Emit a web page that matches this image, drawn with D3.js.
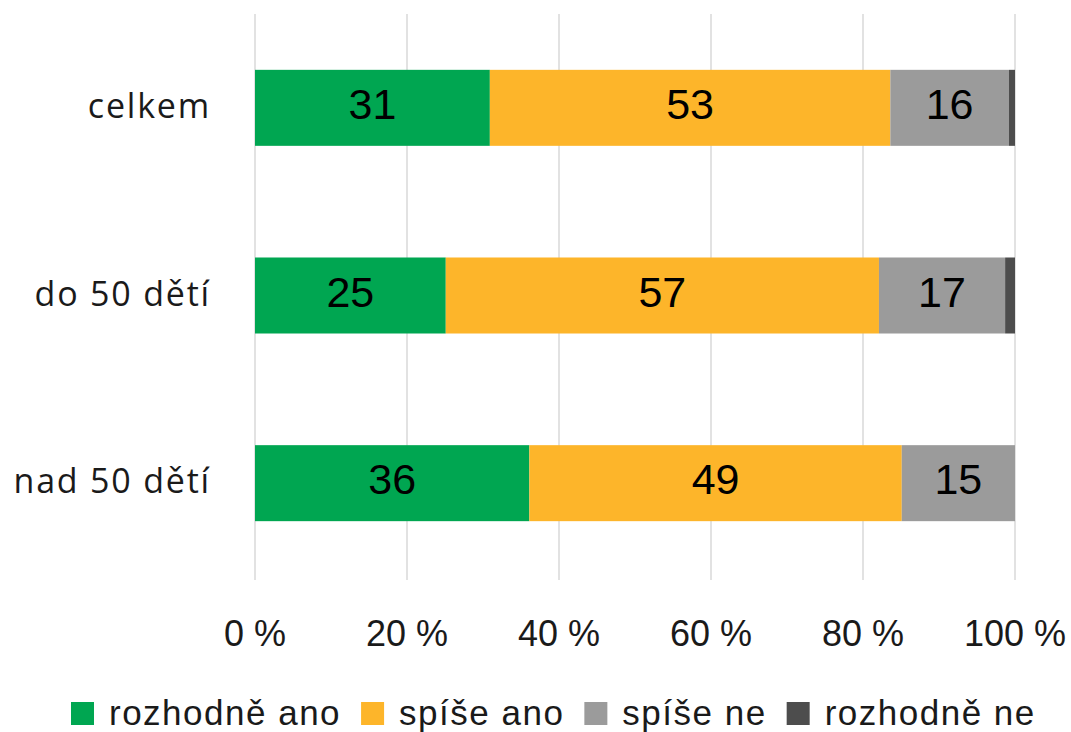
<!DOCTYPE html>
<html>
<head>
<meta charset="utf-8">
<script src="https://cdn.jsdelivr.net/npm/d3@7"></script>
<style>
  html, body { margin: 0; padding: 0; background: #fff; }
  svg { display: block; }
</style>
</head>
<body>
<svg id="chart" width="1071" height="732"></svg>
<script>
// ---- data ----
const categories = ["celkem", "do 50 dětí", "nad 50 dětí"];
const seriesNames = ["rozhodně ano", "spíše ano", "spíše ne", "rozhodně ne"];
const rozhodneAno = [30.9, 25.1, 36.1];
const spiseAno    = [52.7, 57.0, 49.0];
const spiseNe     = [15.6, 16.6, 14.9];
const rozhodneNe  = [0.8, 1.3, 0.0];
const tickValues  = [0, 20, 40, 60, 80, 100];
const tickLabels  = ["0 %", "20 %", "40 %", "60 %", "80 %", "100 %"];
const colors      = ["#00a651", "#fdb52a", "#9b9b9b", "#4d4d4d"];
const showLabel   = [true, true, true, false];

const seriesValues = [rozhodneAno, spiseAno, spiseNe, rozhodneNe];
const rows = categories.map((c, i) => {
  const r = { cat: c };
  seriesNames.forEach((s, j) => r[s] = seriesValues[j][i]);
  return r;
});

const svg = d3.select("#chart");
const x = d3.scaleLinear().domain([0, 100]).range([255, 1015]);
const y = d3.scaleBand().domain(categories).range([14, 577])
  .paddingInner(0.595).paddingOuter(0.2975);

// gridlines
svg.append("g").selectAll("line").data(tickValues).join("line")
  .attr("x1", d => x(d)).attr("x2", d => x(d))
  .attr("y1", 14).attr("y2", 580)
  .attr("stroke", "#d9d9d9").attr("stroke-width", 1.5);

// stacked bars
const stack = d3.stack().keys(seriesNames)(rows);
const layers = svg.append("g").selectAll("g").data(stack).join("g")
  .attr("fill", (d, i) => colors[i]);
layers.selectAll("rect").data(d => d).join("rect")
  .attr("x", d => x(d[0]))
  .attr("width", d => Math.max(0, x(d[1]) - x(d[0])))
  .attr("y", d => y(d.data.cat))
  .attr("height", y.bandwidth());

// data labels
svg.append("g").selectAll("g").data(stack).join("g")
  .each(function(layer, i) {
    if (!showLabel[i]) return;
    d3.select(this).selectAll("text").data(layer).join("text")
      .attr("x", d => (x(d[0]) + x(d[1])) / 2)
      .attr("y", d => y(d.data.cat) + y.bandwidth() / 2 + 11)
      .attr("text-anchor", "middle")
      .attr("font-family", "'Liberation Sans', Arial, sans-serif")
      .attr("font-size", 43)
      .attr("fill", "#000")
      .text(d => Math.round(d[1] - d[0]));
  });

// category labels
svg.append("g").selectAll("text").data(categories).join("text")
  .attr("x", 211)
  .attr("y", d => y(d) + y.bandwidth() / 2 + 10)
  .attr("text-anchor", "end")
  .attr("font-family", "'Open Sans', 'Noto Sans', sans-serif")
  .attr("font-size", 34)
  .attr("letter-spacing", 1.8)
  .attr("fill", "#1a1a1a")
  .text(d => d);

// x tick labels
svg.append("g").selectAll("text").data(tickValues).join("text")
  .attr("x", d => x(d))
  .attr("y", 646)
  .attr("text-anchor", "middle")
  .attr("font-family", "'Liberation Sans', Arial, sans-serif")
  .attr("font-size", 36)
  .attr("fill", "#1a1a1a")
  .text((d, i) => tickLabels[i]);

// legend
const lg = svg.append("g");
const items = lg.selectAll("g").data(seriesNames).join("g");
items.append("rect")
  .attr("width", 23).attr("height", 23)
  .attr("y", 702)
  .attr("fill", (d, i) => colors[i]);
items.append("text")
  .attr("x", 38).attr("y", 725)
  .attr("font-family", "'Liberation Sans', Arial, sans-serif")
  .attr("font-size", 35)
  .attr("letter-spacing", 1.5)
  .attr("fill", "#1a1a1a")
  .text(d => d);
let cx = 71;
items.each(function() {
  const g = d3.select(this);
  const w = g.select("text").node().getComputedTextLength();
  g.attr("transform", `translate(${cx},0)`);
  cx += 38 + w + 20;
});
</script>
</body>
</html>
